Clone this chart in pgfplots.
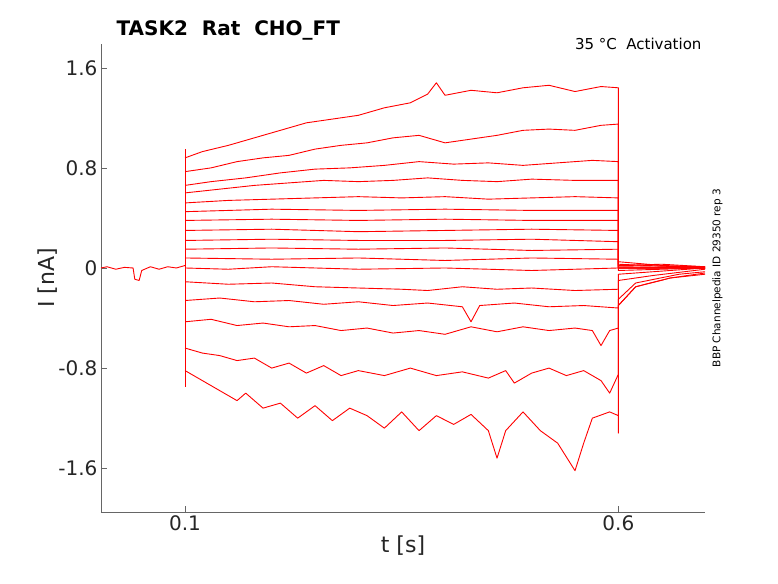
\documentclass[border=0pt]{standalone}
\usepackage{pgfplots}
\pgfplotsset{compat=1.18}
\usepackage{fontspec}
\setmainfont{DejaVu Sans}
\tikzset{tr/.style={red,line width=0.9pt,line join=round,mark=none,solid}}
\begin{document}
\begin{tikzpicture}
\useasboundingbox (-101pt,-71pt) rectangle (677pt,512pt);
\begin{axis}[at={(0,0)},anchor=south west,scale only axis,width=604pt,height=468pt,
xmin=0.003,xmax=0.7,ymin=-1.95,ymax=1.79,
axis lines*=left, axis line style={black!60,line width=0.6pt},
xtick={0.1,0.6},xticklabels={0.1,0.6},ytick={-1.6,-0.8,0,0.8,1.6},
yticklabels={-1.6,-0.8,0,0.8,1.6},
tick align=inside, major tick length=6pt, tick style={black!60},
ticklabel style={font=\fontsize{20}{24}\selectfont, text=black!85},
xlabel={t [s]},ylabel={I [nA]},
label style={font=\fontsize{22}{26}\selectfont, text=black!85},
xlabel style={yshift=2pt},ylabel style={yshift=-6pt},
clip=false]
\addplot[tr] coordinates {(0.003,0) (0.01,0.01) (0.02,-0.01) (0.03,0.005) (0.04,0) (0.042,-0.09) (0.047,-0.1) (0.05,-0.02) (0.06,0.01) (0.07,-0.01) (0.08,0.01) (0.09,0) (0.1,0.02)};
\addplot[tr] coordinates {(0.1,0.95) (0.1,-0.95)};
\addplot[tr] coordinates {(0.1,0.88) (0.12,0.93) (0.15,0.98) (0.18,1.04) (0.21,1.1) (0.24,1.16) (0.27,1.19) (0.3,1.22) (0.33,1.28) (0.36,1.32) (0.38,1.39) (0.39,1.48) (0.4,1.38) (0.43,1.42) (0.46,1.4) (0.49,1.44) (0.52,1.46) (0.55,1.41) (0.58,1.45) (0.6,1.44) (0.6,0.02) (0.65,0.03) (0.7,0.01)};
\addplot[tr] coordinates {(0.1,0.77) (0.13,0.8) (0.16,0.85) (0.19,0.88) (0.22,0.9) (0.25,0.95) (0.28,0.98) (0.31,1.0) (0.34,1.04) (0.37,1.06) (0.4,1.0) (0.43,1.03) (0.46,1.06) (0.49,1.1) (0.52,1.11) (0.55,1.1) (0.58,1.14) (0.6,1.15) (0.6,0.05) (0.65,0.02) (0.7,0.01)};
\addplot[tr] coordinates {(0.1,0.66) (0.13,0.69) (0.17,0.72) (0.21,0.76) (0.25,0.79) (0.29,0.8) (0.33,0.82) (0.37,0.85) (0.41,0.83) (0.45,0.84) (0.49,0.82) (0.53,0.84) (0.57,0.86) (0.6,0.85) (0.6,0.03) (0.7,0)};
\addplot[tr] coordinates {(0.1,0.6) (0.14,0.63) (0.18,0.66) (0.22,0.68) (0.26,0.7) (0.3,0.69) (0.34,0.7) (0.38,0.72) (0.42,0.7) (0.46,0.69) (0.5,0.71) (0.55,0.7) (0.6,0.7) (0.6,0.02) (0.7,0.01)};
\addplot[tr] coordinates {(0.1,0.52) (0.15,0.54) (0.2,0.55) (0.25,0.56) (0.3,0.57) (0.35,0.56) (0.4,0.57) (0.45,0.55) (0.5,0.56) (0.55,0.57) (0.6,0.56) (0.6,0.01) (0.7,0)};
\addplot[tr] coordinates {(0.1,0.45) (0.15,0.46) (0.2,0.47) (0.3,0.46) (0.4,0.47) (0.5,0.46) (0.6,0.46) (0.6,0) (0.7,0)};
\addplot[tr] coordinates {(0.1,0.38) (0.2,0.39) (0.3,0.38) (0.4,0.39) (0.5,0.38) (0.6,0.38) (0.6,0) (0.7,0)};
\addplot[tr] coordinates {(0.1,0.3) (0.2,0.31) (0.3,0.29) (0.4,0.3) (0.5,0.31) (0.6,0.3) (0.6,0) (0.7,0)};
\addplot[tr] coordinates {(0.1,0.22) (0.2,0.23) (0.3,0.22) (0.4,0.22) (0.5,0.23) (0.6,0.21) (0.6,0) (0.7,0)};
\addplot[tr] coordinates {(0.1,0.15) (0.2,0.16) (0.3,0.15) (0.4,0.16) (0.5,0.14) (0.6,0.15) (0.6,0) (0.7,0)};
\addplot[tr] coordinates {(0.1,0.08) (0.2,0.07) (0.3,0.08) (0.4,0.06) (0.5,0.08) (0.6,0.07) (0.6,0) (0.7,0)};
\addplot[tr] coordinates {(0.1,0.0) (0.15,-0.01) (0.2,0.01) (0.3,-0.01) (0.4,0.0) (0.5,-0.02) (0.6,0.0) (0.6,-0.02) (0.7,0)};
\addplot[tr] coordinates {(0.1,-0.11) (0.15,-0.13) (0.2,-0.12) (0.25,-0.15) (0.3,-0.16) (0.35,-0.17) (0.38,-0.18) (0.42,-0.15) (0.46,-0.17) (0.5,-0.16) (0.55,-0.18) (0.6,-0.17) (0.6,-0.05) (0.64,-0.03) (0.7,0)};
\addplot[tr] coordinates {(0.1,-0.26) (0.14,-0.24) (0.18,-0.27) (0.22,-0.26) (0.26,-0.29) (0.3,-0.27) (0.34,-0.3) (0.38,-0.28) (0.42,-0.31) (0.43,-0.43) (0.44,-0.3) (0.48,-0.28) (0.52,-0.31) (0.56,-0.3) (0.6,-0.32) (0.6,-0.1) (0.64,-0.06) (0.7,-0.01)};
\addplot[tr] coordinates {(0.1,-0.43) (0.13,-0.41) (0.16,-0.46) (0.19,-0.44) (0.22,-0.47) (0.25,-0.46) (0.28,-0.5) (0.31,-0.48) (0.34,-0.52) (0.37,-0.5) (0.4,-0.53) (0.43,-0.47) (0.46,-0.51) (0.49,-0.47) (0.52,-0.5) (0.55,-0.48) (0.57,-0.5) (0.58,-0.62) (0.59,-0.5) (0.6,-0.48) (0.6,-0.25) (0.62,-0.12) (0.67,-0.05) (0.7,-0.03)};
\addplot[tr] coordinates {(0.1,-0.64) (0.12,-0.68) (0.14,-0.7) (0.16,-0.74) (0.18,-0.72) (0.2,-0.8) (0.22,-0.76) (0.24,-0.84) (0.26,-0.78) (0.28,-0.86) (0.3,-0.82) (0.33,-0.86) (0.36,-0.8) (0.39,-0.86) (0.42,-0.83) (0.45,-0.88) (0.47,-0.82) (0.48,-0.92) (0.5,-0.84) (0.52,-0.8) (0.54,-0.86) (0.56,-0.82) (0.58,-0.9) (0.59,-1.0) (0.6,-0.85) (0.6,-0.3) (0.62,-0.15) (0.66,-0.08) (0.7,-0.04)};
\addplot[tr] coordinates {(0.1,-0.82) (0.12,-0.9) (0.14,-0.98) (0.16,-1.06) (0.17,-1.0) (0.19,-1.12) (0.21,-1.08) (0.23,-1.2) (0.25,-1.1) (0.27,-1.22) (0.29,-1.12) (0.31,-1.18) (0.33,-1.28) (0.35,-1.15) (0.37,-1.3) (0.39,-1.18) (0.41,-1.25) (0.43,-1.17) (0.45,-1.3) (0.46,-1.52) (0.47,-1.3) (0.49,-1.15) (0.51,-1.3) (0.53,-1.4) (0.55,-1.62) (0.56,-1.4) (0.57,-1.2) (0.59,-1.15) (0.6,-1.18) (0.6,-1.32) (0.6,-0.3) (0.62,-0.15) (0.66,-0.08) (0.7,-0.05)};
\node[anchor=south west,font=\bfseries\fontsize{20}{24}\selectfont] at (rel axis cs:0.02,1.0) {TASK2\ \ Rat\ \ CHO\_FT};
\node[anchor=north east,font=\fontsize{15}{18}\selectfont] at (rel axis cs:1.0,1.02) {35 °C\ \ Activation};
\node[rotate=90,anchor=south,font=\fontsize{10.5}{13}\selectfont] at (rel axis cs:1.035,0.5) {BBP Channelpedia ID 29350 rep 3};
\end{axis}
\end{tikzpicture}
\end{document}
